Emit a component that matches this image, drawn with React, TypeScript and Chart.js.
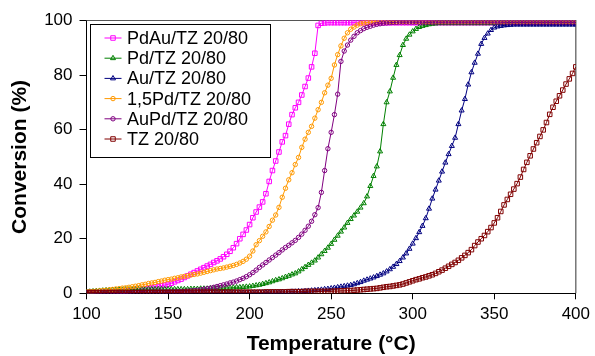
import { useEffect, useRef } from 'react';
import { Chart, registerables } from 'chart.js';

Chart.register(...registerables);

const temperatures = [
  100, 102, 104, 106, 108, 110, 112, 114, 116, 118,
  120, 122, 124, 126, 128, 130, 132, 134, 136, 138,
  140, 142, 144, 146, 148, 150, 152, 154, 156, 158,
  160, 162, 164, 166, 168, 170, 172, 174, 176, 178,
  180, 182, 184, 186, 188, 190, 192, 194, 196, 198,
  200, 202, 204, 206, 208, 210, 212, 214, 216, 218,
  220, 222, 224, 226, 228, 230, 232, 234, 236, 238,
  240, 242, 244, 246, 248, 250, 252, 254, 256, 258,
  260, 262, 264, 266, 268, 270, 272, 274, 276, 278,
  280, 282, 284, 286, 288, 290, 292, 294, 296, 298,
  300, 302, 304, 306, 308, 310, 312, 314, 316, 318,
  320, 322, 324, 326, 328, 330, 332, 334, 336, 338,
  340, 342, 344, 346, 348, 350, 352, 354, 356, 358,
  360, 362, 364, 366, 368, 370, 372, 374, 376, 378,
  380, 382, 384, 386, 388, 390, 392, 394, 396, 398,
  400,
];

const pdAuTZ = [
  0, 0.1, 0.1, 0.2, 0.2, 0.3, 0.3, 0.4, 0.5, 0.5,
  0.6, 0.7, 0.8, 0.9, 1.0, 1.2, 1.3, 1.5, 1.7, 1.9,
  2.1, 2.3, 2.5, 2.8, 3.0, 3.3, 3.7, 4.2, 4.7, 5.2,
  5.8, 6.4, 7.0, 7.6, 8.2, 8.8, 9.4, 10.0, 10.6, 11.3,
  11.9, 12.6, 13.4, 14.3, 15.4, 16.7, 18.2, 20.0, 21.6, 23.2,
  25.2, 27.7, 29.8, 31.6, 33.5, 36.5, 41.0, 45.0, 48.5, 51.8,
  55.5, 57.8, 62.0, 65.5, 68.0, 70.0, 72.7, 75.8, 78.9, 83.0,
  88.0, 98.2, 99.0, 99.1, 99.2, 99.2, 99.2, 99.2, 99.2, 99.2,
  99.2, 99.2, 99.2, 99.2, 99.2, 99.2, 99.2, 99.2, 99.2, 99.2,
  99.2, 99.2, 99.2, 99.2, 99.2, 99.2, 99.2, 99.2, 99.2, 99.2,
  99.2, 99.2, 99.2, 99.2, 99.2, 99.2, 99.2, 99.2, 99.2, 99.2,
  99.2, 99.2, 99.2, 99.2, 99.2, 99.2, 99.2, 99.2, 99.2, 99.2,
  99.2, 99.2, 99.2, 99.2, 99.2, 99.2, 99.2, 99.2, 99.2, 99.2,
  99.2, 99.2, 99.2, 99.2, 99.2, 99.2, 99.2, 99.2, 99.2, 99.2,
  99.2, 99.2, 99.2, 99.2, 99.2, 99.2, 99.2, 99.2, 99.2, 99.2,
  99.2,
];

const pdTZ = [
  0.5, 0.6, 0.7, 0.8, 0.9, 1.0, 1.1, 1.1, 1.2, 1.2,
  1.3, 1.3, 1.4, 1.4, 1.4, 1.5, 1.5, 1.5, 1.5, 1.5,
  1.5, 1.5, 1.5, 1.5, 1.5, 1.5, 1.5, 1.5, 1.5, 1.5,
  1.5, 1.5, 1.6, 1.6, 1.6, 1.7, 1.7, 1.7, 1.8, 1.8,
  1.8, 1.9, 1.9, 2.0, 2.0, 2.1, 2.2, 2.2, 2.3, 2.4,
  2.5, 2.7, 2.9, 3.1, 3.4, 3.7, 4.0, 4.4, 4.8, 5.1,
  5.5, 6.0, 6.4, 6.9, 7.3, 8.0, 8.8, 9.6, 10.4, 11.2,
  12.0, 13.1, 14.3, 15.5, 16.7, 18.1, 19.6, 21.1, 22.6, 24.1,
  25.8, 27.2, 28.5, 29.9, 31.4, 33.0, 35.5, 39.3, 43.0, 46.5,
  52.0, 62.0, 70.0, 74.0, 79.0, 83.7, 87.3, 91.0, 93.3, 94.8,
  96.0, 96.9, 97.6, 98.0, 98.3, 98.6, 98.8, 98.9, 99.0, 99.0,
  99.0, 99.0, 99.0, 99.0, 99.0, 99.0, 99.0, 99.0, 99.0, 99.0,
  99.0, 99.0, 99.0, 99.0, 99.0, 99.0, 99.0, 99.0, 99.0, 99.0,
  99.0, 99.0, 99.0, 99.0, 99.0, 99.0, 99.0, 99.0, 99.0, 99.0,
  99.0, 99.0, 99.0, 99.0, 99.0, 99.0, 99.0, 99.0, 99.0, 99.0,
  99.0,
];

const auTZ = [
  0.0, 0.0, 0.0, 0.1, 0.1, 0.1, 0.1, 0.1, 0.1, 0.1,
  0.1, 0.1, 0.1, 0.1, 0.1, 0.1, 0.1, 0.1, 0.1, 0.1,
  0.1, 0.1, 0.1, 0.1, 0.1, 0.1, 0.1, 0.1, 0.1, 0.1,
  0.1, 0.1, 0.1, 0.1, 0.1, 0.1, 0.1, 0.2, 0.2, 0.2,
  0.2, 0.2, 0.2, 0.2, 0.2, 0.2, 0.2, 0.2, 0.2, 0.2,
  0.2, 0.2, 0.2, 0.3, 0.3, 0.3, 0.3, 0.4, 0.4, 0.4,
  0.5, 0.5, 0.5, 0.6, 0.6, 0.7, 0.7, 0.8, 0.9, 1.0,
  1.1, 1.2, 1.3, 1.5, 1.6, 1.8, 2.0, 2.2, 2.4, 2.6,
  2.8, 3.0, 3.3, 3.7, 4.1, 4.6, 5.0, 5.4, 5.8, 6.3,
  6.8, 7.3, 8.0, 8.8, 9.7, 10.7, 11.8, 13.1, 14.6, 16.3,
  18.2, 20.2, 22.4, 24.7, 27.5, 31.0, 34.7, 38.0, 41.3, 44.6,
  47.9, 51.0, 54.0, 57.0, 62.0, 67.0, 71.2, 76.5, 81.0, 84.5,
  87.8, 91.4, 93.6, 95.2, 96.5, 97.4, 97.8, 98.0, 98.2, 98.3,
  98.4, 98.5, 98.5, 98.5, 98.5, 98.5, 98.5, 98.5, 98.5, 98.5,
  98.5, 98.5, 98.5, 98.5, 98.5, 98.5, 98.5, 98.5, 98.5, 98.5,
  98.5,
];

const pd15TZ = [
  0.5, 0.6, 0.7, 0.8, 0.9, 1.0, 1.1, 1.3, 1.4, 1.6,
  1.7, 1.9, 2.0, 2.2, 2.4, 2.6, 2.8, 3.1, 3.3, 3.6,
  3.8, 4.0, 4.3, 4.5, 4.8, 5.0, 5.2, 5.5, 5.7, 6.0,
  6.2, 6.4, 6.7, 6.9, 7.1, 7.4, 7.7, 8.0, 8.3, 8.6,
  8.9, 9.1, 9.3, 9.6, 9.9, 10.2, 10.6, 11.1, 11.7, 12.5,
  13.6, 15.5, 17.8, 19.3, 20.9, 22.5, 24.5, 26.8, 28.7, 31.5,
  35.2, 38.5, 41.6, 44.2, 47.2, 49.8, 53.5, 56.5, 59.0, 61.2,
  64.2, 67.3, 70.0, 73.5, 76.3, 78.8, 83.7, 87.5, 90.7, 93.5,
  95.5, 96.8, 97.6, 98.3, 98.8, 99.1, 99.3, 99.4, 99.5, 99.5,
  99.6, 99.6, 99.6, 99.6, 99.6, 99.6, 99.6, 99.6, 99.6, 99.6,
  99.6, 99.6, 99.6, 99.6, 99.6, 99.6, 99.6, 99.6, 99.6, 99.6,
  99.6, 99.6, 99.6, 99.6, 99.6, 99.6, 99.6, 99.6, 99.6, 99.6,
  99.6, 99.6, 99.6, 99.6, 99.6, 99.6, 99.6, 99.6, 99.6, 99.6,
  99.6, 99.6, 99.6, 99.6, 99.6, 99.6, 99.6, 99.6, 99.6, 99.6,
  99.6, 99.6, 99.6, 99.6, 99.6, 99.6, 99.6, 99.6, 99.6, 99.6,
  99.6,
];

const auPdTZ = [
  0.2, 0.2, 0.2, 0.2, 0.2, 0.2, 0.2, 0.3, 0.3, 0.3,
  0.3, 0.3, 0.3, 0.3, 0.3, 0.3, 0.3, 0.4, 0.4, 0.4,
  0.4, 0.4, 0.4, 0.5, 0.5, 0.5, 0.5, 0.6, 0.6, 0.6,
  0.7, 0.8, 0.9, 1.0, 1.1, 1.3, 1.5, 1.7, 1.9, 2.2,
  2.5, 2.8, 3.1, 3.4, 3.8, 4.1, 4.5, 5.0, 5.5, 6.1,
  6.8, 7.6, 8.5, 9.5, 10.4, 11.3, 12.2, 13.1, 14.0, 14.9,
  15.9, 16.8, 17.6, 18.5, 19.4, 20.5, 21.7, 23.1, 24.6, 26.4,
  28.8, 31.4, 37.0, 45.0, 53.0, 59.0, 65.5, 73.0, 85.0, 88.8,
  91.0, 92.8, 94.2, 95.5, 96.3, 97.0, 97.5, 97.9, 98.3, 98.6,
  98.8, 99.0, 99.1, 99.2, 99.3, 99.3, 99.4, 99.4, 99.4, 99.4,
  99.4, 99.4, 99.4, 99.4, 99.4, 99.4, 99.4, 99.4, 99.4, 99.4,
  99.4, 99.4, 99.4, 99.4, 99.4, 99.4, 99.4, 99.4, 99.4, 99.4,
  99.4, 99.4, 99.4, 99.4, 99.4, 99.4, 99.4, 99.4, 99.4, 99.4,
  99.4, 99.4, 99.4, 99.4, 99.4, 99.4, 99.4, 99.4, 99.4, 99.4,
  99.4, 99.4, 99.4, 99.4, 99.4, 99.4, 99.4, 99.4, 99.4, 99.4,
  99.4,
];

const tzOnly = [
  0.3, 0.3, 0.3, 0.3, 0.3, 0.3, 0.3, 0.3, 0.3, 0.3,
  0.3, 0.3, 0.3, 0.3, 0.3, 0.3, 0.3, 0.3, 0.3, 0.3,
  0.3, 0.3, 0.3, 0.3, 0.3, 0.3, 0.3, 0.3, 0.3, 0.3,
  0.4, 0.4, 0.4, 0.4, 0.4, 0.4, 0.4, 0.4, 0.4, 0.4,
  0.4, 0.4, 0.4, 0.4, 0.4, 0.4, 0.4, 0.4, 0.4, 0.4,
  0.4, 0.4, 0.4, 0.4, 0.4, 0.5, 0.5, 0.5, 0.5, 0.5,
  0.5, 0.5, 0.6, 0.6, 0.6, 0.6, 0.6, 0.7, 0.7, 0.7,
  0.7, 0.7, 0.7, 0.7, 0.7, 0.7, 0.8, 0.8, 0.9, 0.9,
  1.0, 1.0, 1.1, 1.2, 1.3, 1.4, 1.5, 1.6, 1.7, 1.8,
  2.0, 2.2, 2.4, 2.5, 2.7, 2.9, 3.1, 3.4, 3.8, 4.2,
  4.6, 5.0, 5.3, 5.7, 6.0, 6.4, 6.8, 7.3, 7.9, 8.5,
  9.2, 9.9, 10.6, 11.3, 12.1, 13.0, 13.9, 14.9, 16.0, 17.5,
  18.8, 20.0, 21.2, 22.6, 24.1, 25.8, 27.7, 30.0, 32.4, 34.4,
  36.3, 38.2, 40.2, 42.6, 45.4, 48.0, 50.4, 52.9, 55.2, 57.5,
  59.9, 62.6, 65.6, 68.2, 70.4, 72.4, 74.5, 76.7, 78.6, 80.6,
  83.0,
];

const seriesLabels = [
  'PdAu/TZ 20/80',
  'Pd/TZ 20/80',
  'Au/TZ 20/80',
  '1,5Pd/TZ 20/80',
  'AuPd/TZ 20/80',
  'TZ 20/80',
];
const seriesValues = [pdAuTZ, pdTZ, auTZ, pd15TZ, auPdTZ, tzOnly];
const seriesColors = ['#FF00FF', '#008000', '#000080', '#FF9900', '#800080', '#800000'];
const seriesMarkers = ['rect', 'triangle', 'triangle', 'circle', 'circle', 'rect'];
const markerRadius: Record<string, number> = { rect: 3.2, triangle: 2.9, circle: 2.2 };

const xTitle = 'Temperature (°C)';
const yTitle = 'Conversion (%)';
const FONT = '"Liberation Sans", Arial, Helvetica, sans-serif';

function drawMarker(ctx: CanvasRenderingContext2D, style: string, r: number, x: number, y: number) {
  ctx.beginPath();
  if (style === 'rect') {
    const s = Math.SQRT1_2 * r;
    ctx.rect(x - s, y - s, 2 * s, 2 * s);
  } else if (style === 'triangle') {
    for (let k = 0; k < 3; k++) {
      const a = (k * 2 * Math.PI) / 3;
      const px = x + Math.sin(a) * r;
      const py = y - Math.cos(a) * r;
      if (k === 0) ctx.moveTo(px, py);
      else ctx.lineTo(px, py);
    }
    ctx.closePath();
  } else {
    ctx.arc(x, y, r, 0, Math.PI * 2);
  }
  ctx.fill();
  ctx.stroke();
}

const framePlugin = {
  id: 'frame',
  beforeDatasetsDraw(chart: any) {
    const { ctx, chartArea } = chart;
    ctx.save();
    ctx.strokeStyle = '#555';
    ctx.lineWidth = 1.2;
    ctx.beginPath();
    ctx.moveTo(chartArea.left, chartArea.top);
    ctx.lineTo(chartArea.right, chartArea.top);
    ctx.lineTo(chartArea.right, chartArea.bottom);
    ctx.stroke();
    ctx.restore();
  },
};

const boxLegendPlugin = {
  id: 'boxLegend',
  afterDatasetsDraw(chart: any) {
    const { ctx, chartArea } = chart;
    const x0 = Math.round(chartArea.left + 3) + 0.5;
    const y0 = Math.round(chartArea.top + 3) + 0.5;
    const w = 180;
    const h = 133;
    ctx.save();
    ctx.fillStyle = '#fff';
    ctx.fillRect(x0, y0, w, h);
    ctx.strokeStyle = '#000';
    ctx.lineWidth = 1;
    ctx.strokeRect(x0, y0, w, h);
    ctx.font = `18px ${FONT}`;
    ctx.textBaseline = 'middle';
    ctx.textAlign = 'left';
    chart.data.datasets.forEach((ds: any, i: number) => {
      const cy = y0 + 13.5 + i * 20.2;
      ctx.strokeStyle = ds.borderColor;
      ctx.lineWidth = 1;
      ctx.beginPath();
      ctx.moveTo(x0 + 14, cy);
      ctx.lineTo(x0 + 31, cy);
      ctx.stroke();
      ctx.fillStyle = 'rgba(255,255,255,0)';
      drawMarker(ctx, ds.pointStyle, ds.pointRadius, x0 + 22.5, cy);
      ctx.fillStyle = '#000';
      ctx.fillText(ds.label, x0 + 36.5, cy + 1);
    });
    ctx.restore();
  },
};

export default function App() {
  const canvasRef = useRef<HTMLCanvasElement | null>(null);

  useEffect(() => {
    const canvas = canvasRef.current;
    if (!canvas) return;
    const datasets = seriesLabels.map((label, i) => ({
      label,
      data: temperatures.map((t, j) => ({ x: t, y: seriesValues[i][j] })),
      borderColor: seriesColors[i],
      backgroundColor: 'rgba(255,255,255,0)',
      borderWidth: 1,
      pointStyle: seriesMarkers[i],
      pointRadius: markerRadius[seriesMarkers[i]],
      pointBorderWidth: 1,
      pointBorderColor: seriesColors[i],
      pointBackgroundColor: 'rgba(255,255,255,0)',
      tension: 0,
      order: seriesLabels.length - i,
    }));

    const chart = new Chart(canvas, {
      type: 'line',
      data: { datasets },
      options: {
        animation: false,
        responsive: false,
        maintainAspectRatio: false,
        devicePixelRatio: 1,
        layout: { padding: { left: 0, top: 20.5, right: 17, bottom: 0 } },
        plugins: {
          legend: { display: false },
          tooltip: { enabled: false },
        },
        scales: {
          x: {
            type: 'linear',
            min: 100,
            max: 400,
            afterFit: (scale: any) => {
              scale.height = 62.7;
            },
            ticks: {
              stepSize: 50,
              color: '#000',
              padding: 5,
              font: { family: FONT, size: 17 },
              maxRotation: 0,
            },
            grid: {
              display: true,
              drawOnChartArea: false,
              drawTicks: true,
              tickLength: 6,
              color: '#000',
            },
            border: { display: true, color: '#000', width: 1 },
            title: {
              display: true,
              text: xTitle,
              color: '#000',
              font: { family: FONT, size: 21, weight: 'bold', lineHeight: 1 },
              padding: { top: 0, bottom: 1.5 },
            },
          },
          y: {
            type: 'linear',
            min: 0,
            max: 100,
            afterFit: (scale: any) => {
              scale.width = 86.5;
            },
            ticks: {
              stepSize: 20,
              color: '#000',
              padding: 7,
              font: { family: FONT, size: 17 },
            },
            grid: {
              display: true,
              drawOnChartArea: false,
              drawTicks: true,
              tickLength: 7,
              color: '#000',
            },
            border: { display: true, color: '#000', width: 1 },
            title: {
              display: true,
              text: yTitle,
              color: '#000',
              font: { family: FONT, size: 21, weight: 'bold', lineHeight: 1 },
              padding: { top: 10, bottom: 0 },
            },
          },
        },
      },
      plugins: [framePlugin, boxLegendPlugin],
    } as any);

    return () => {
      chart.destroy();
    };
  }, []);

  return (
    <div style={{ position: 'absolute', left: 0, top: 0, width: 595, height: 356, background: '#fff' }}>
      <canvas ref={canvasRef} width={595} height={356} style={{ width: 595, height: 356, display: 'block' }} />
    </div>
  );
}
